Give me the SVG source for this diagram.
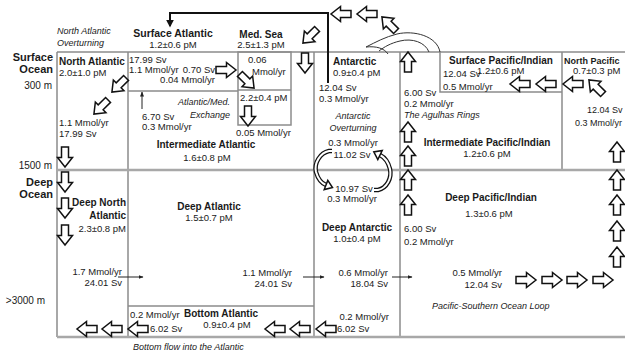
<svg xmlns="http://www.w3.org/2000/svg" xmlns:xlink="http://www.w3.org/1999/xlink" width="625" height="354" viewBox="0 0 625 354">
<style>
text{font-family:"Liberation Sans",Arial,sans-serif;fill:#1a1a1a;font-size:9.5px}
.b{font-weight:bold;font-size:10px}
.ax{font-weight:bold;font-size:11px}
.i{font-style:italic;font-size:9px}
.e{text-anchor:end}
.m{text-anchor:middle}
.bx{stroke:#8c8c8c;stroke-width:1.5;fill:none}
.lv{stroke:#a8a8a8;stroke-width:2.5;fill:none}
.ba{fill:#fff;stroke:#111;stroke-width:1.5;stroke-linejoin:miter}
.thin{stroke:#222;stroke-width:1;fill:none;marker-end:url(#mh)}
.ck{fill:none;stroke:#111;stroke-width:4.5}
.cw{fill:none;stroke:#fff;stroke-width:2}
.ag{fill:none;stroke:#333;stroke-width:1}
</style>
<defs>
<path id="ar" d="M-10,-3.5 H0.5 V-7.5 L10,0 L0.5,7.5 V3.5 H-10 Z"/>
<marker id="mh" viewBox="0 0 10 10" refX="9" refY="5" markerWidth="5" markerHeight="5" orient="auto"><path d="M0,1 L10,5 L0,9 Z" fill="#222"/></marker>
<marker id="mk" viewBox="0 0 10 10" refX="8" refY="5" markerWidth="4" markerHeight="4" orient="auto"><path d="M0,0 L10,5 L0,10 Z" fill="#111"/></marker>
</defs>
<rect width="625" height="354" fill="#fff"/>

<g id="frame">
<path class="bx" d="M57,52 H625 M57,52 V337 M128,52 V337 M128,91 H238 M314,52 V337 M400,52 V337 M440,52 V92 H562 M562,52 V170 M128,306 H314"/>
<rect class="bx" x="238" y="52" width="53" height="73"/>
<path class="bx" d="M238,90 H291"/>
<path class="lv" d="M57,170 H625 M57,337 H625"/>
</g>

<g id="axis-labels">
<text class="ax e" x="53" y="61">Surface</text>
<text class="ax e" x="53" y="73">Ocean</text>
<text class="e" x="52" y="89" style="font-size:10px">300 m</text>
<text class="e" x="52" y="169" style="font-size:10px">1500 m</text>
<text class="ax e" x="53" y="186">Deep</text>
<text class="ax e" x="53" y="198">Ocean</text>
<text class="e" x="45" y="304" style="font-size:10px">&gt;3000 m</text>
</g>

<g id="north-atlantic-overturning">
<text class="i" x="57" y="34">North Atlantic</text>
<text class="i" x="57" y="46">Overturning</text>
</g>

<g id="north-atlantic">
<text class="b" x="59" y="65">North Atlantic</text>
<text x="59" y="76">2.0±1.0 pM</text>
</g>

<g id="surface-atlantic">
<text class="b m" x="173" y="37" style="font-size:10.5px">Surface Atlantic</text>
<text class="m" x="173" y="48">1.2±0.6 pM</text>
</g>

<g id="med-sea">
<text class="b m" x="261" y="38">Med. Sea</text>
<text class="m" x="261" y="48">2.5±1.3 pM</text>
<text x="240" y="101">2.2±0.4 pM</text>
</g>

<g id="antarctic">
<text class="b" x="333" y="65">Antarctic</text>
<text x="333" y="76">0.9±0.4 pM</text>
</g>

<g id="surface-pacific-indian">
<text class="b" x="449" y="64">Surface Pacific/Indian</text>
<text x="477" y="74">1.2±0.6 pM</text>
</g>

<g id="north-pacific">
<text class="b" x="564" y="64" style="font-size:9px">North Pacific</text>
<text x="573" y="74">0.7±0.3 pM</text>
</g>

<g id="intermediate-atlantic">
<text class="b m" x="206" y="148">Intermediate Atlantic</text>
<text class="m" x="207" y="161">1.6±0.8 pM</text>
</g>

<g id="atlantic-med-exchange">
<text class="i e" x="230" y="105">Atlantic/Med.</text>
<text class="i e" x="230" y="118">Exchange</text>
</g>

<g id="antarctic-overturning">
<text class="i m" x="353" y="119">Antarctic</text>
<text class="i m" x="353" y="131">Overturning</text>
</g>

<g id="intermediate-pacific-indian">
<text class="b m" x="487" y="146">Intermediate Pacific/Indian</text>
<text class="m" x="487" y="157">1.2±0.6 pM</text>
</g>

<g id="deep-north-atlantic">
<text class="b e" x="126" y="206">Deep North</text>
<text class="b e" x="126" y="219">Atlantic</text>
<text class="e" x="126" y="232">2.3±0.8 pM</text>
</g>

<g id="deep-atlantic">
<text class="b m" x="209" y="210">Deep Atlantic</text>
<text class="m" x="209" y="221">1.5±0.7 pM</text>
</g>

<g id="deep-antarctic">
<text class="b m" x="357" y="231">Deep Antarctic</text>
<text class="m" x="357" y="242">1.0±0.4 pM</text>
</g>

<g id="deep-pacific-indian">
<text class="b m" x="491" y="201">Deep Pacific/Indian</text>
<text class="m" x="489" y="217">1.3±0.6 pM</text>
</g>

<g id="bottom-atlantic">
<text class="b m" x="221" y="317">Bottom Atlantic</text>
<text class="m" x="227" y="328">0.9±0.4 pM</text>
</g>

<g id="connectors">
<path d="M328,83 V13 H170 V26" fill="none" stroke="#111" stroke-width="2" marker-end="url(#mk)"/>

<use xlink:href="#ar" class="ba" transform="translate(341,14) rotate(180)"/>
<use xlink:href="#ar" class="ba" transform="translate(367,14) rotate(180)"/>
<use xlink:href="#ar" class="ba" transform="translate(389,24) rotate(225)"/>

<path class="ag" d="M440,52 C437,36 414,30 397,34 C385,37 376,42 366,47 C376,46 384,48 388,54"/>
<path class="ag" d="M429,52 C425,42 412,38 400,41 C391,43 384,47 379,51"/>

<use xlink:href="#ar" class="ba" transform="translate(119,85) rotate(135)"/>
<use xlink:href="#ar" class="ba" transform="translate(101,107) rotate(135)"/>

<use xlink:href="#ar" class="ba" transform="translate(226,70)"/>
<use xlink:href="#ar" class="ba" transform="translate(247,81) rotate(45)"/>
<use xlink:href="#ar" class="ba" transform="translate(248,116) rotate(90)"/>
<use xlink:href="#ar" class="ba" transform="translate(305,63) rotate(90)"/>
<use xlink:href="#ar" class="ba" transform="translate(310,36) rotate(135)"/>

<use xlink:href="#ar" class="ba" transform="translate(65,157) rotate(90)"/>
<use xlink:href="#ar" class="ba" transform="translate(65,182) rotate(90)"/>
<use xlink:href="#ar" class="ba" transform="translate(65,208) rotate(90)"/>
<use xlink:href="#ar" class="ba" transform="translate(65,235) rotate(90)"/>

<use xlink:href="#ar" class="ba" transform="translate(87,329) rotate(180)"/>
<use xlink:href="#ar" class="ba" transform="translate(112,329) rotate(180)"/>
<use xlink:href="#ar" class="ba" transform="translate(138,329) rotate(180)"/>
<use xlink:href="#ar" class="ba" transform="translate(275,329) rotate(180)"/>
<use xlink:href="#ar" class="ba" transform="translate(300,329) rotate(180)"/>
<use xlink:href="#ar" class="ba" transform="translate(326,329) rotate(180)"/>

<use xlink:href="#ar" class="ba" transform="translate(520,84) rotate(180)"/>
<use xlink:href="#ar" class="ba" transform="translate(546,84) rotate(180)"/>
<use xlink:href="#ar" class="ba" transform="translate(573,84) rotate(180)"/>
<use xlink:href="#ar" class="ba" transform="translate(596,87) rotate(225)"/>

<use xlink:href="#ar" class="ba" transform="translate(408,62) rotate(270)"/>
<use xlink:href="#ar" class="ba" transform="translate(408,132) rotate(270)"/>
<use xlink:href="#ar" class="ba" transform="translate(408,156) rotate(270)"/>
<use xlink:href="#ar" class="ba" transform="translate(408,180) rotate(270)"/>
<use xlink:href="#ar" class="ba" transform="translate(408,205) rotate(270)"/>

<use xlink:href="#ar" class="ba" transform="translate(617,152) rotate(270)"/>
<use xlink:href="#ar" class="ba" transform="translate(617,180) rotate(270)"/>
<use xlink:href="#ar" class="ba" transform="translate(617,205) rotate(270)"/>
<use xlink:href="#ar" class="ba" transform="translate(617,231) rotate(270)"/>
<use xlink:href="#ar" class="ba" transform="translate(617,257) rotate(270)"/>

<use xlink:href="#ar" class="ba" transform="translate(526,280)"/>
<use xlink:href="#ar" class="ba" transform="translate(552,280)"/>
<use xlink:href="#ar" class="ba" transform="translate(577,280)"/>
<use xlink:href="#ar" class="ba" transform="translate(603,280)"/>

<path class="thin" d="M142,109 V92"/>
<path class="thin" d="M118,277 H143"/>
<path class="thin" d="M303,277 H324"/>
<path class="thin" d="M392,277 H412"/>

<path class="ck" d="M332,151 H329 C320,153 314,163 316,172 C318,179 321,183 326,185"/>
<path class="cw" d="M332,151 H329 C320,153 314,163 316,172 C318,179 321,183 326,185"/>
<polygon class="ba" points="327.8,180.4 332.5,187.6 324.2,189.6"/>
<path class="ck" d="M374,190 H378 C387,188 392,178 390,169 C388,161 384,157 380,155"/>
<path class="cw" d="M374,190 H378 C387,188 392,178 390,169 C388,161 384,157 380,155"/>
<polygon class="ba" points="382.2,150.5 373.8,151.9 377.8,159.5"/>
</g>

<g id="flux-labels">
<text x="129" y="63">17.99 Sv</text>
<text x="129" y="73">1.1 Mmol/yr</text>
<text class="e" x="215" y="73">0.70 Sv</text>
<text class="e" x="215" y="83">0.04 Mmol/yr</text>
<text x="248" y="63">0.06</text>
<text x="252" y="75">Mmol/yr</text>
<text x="236" y="136">0.05 Mmol/yr</text>
<text x="142" y="120">6.70 Sv</text>
<text x="142" y="130">0.3 Mmol/yr</text>
<text x="59" y="126">1.1 Mmol/yr</text>
<text x="59" y="137">17.99 Sv</text>
<text x="319" y="91">12.04 Sv</text>
<text x="319" y="102">0.3 Mmol/yr</text>
<text x="404" y="96">6.00 Sv</text>
<text x="404" y="107">0.2 Mmol/yr</text>
<text class="i" x="404" y="118">The Agulhas Rings</text>
<text x="443" y="77">12.04 Sv</text>
<text x="443" y="90">0.5 Mmol/yr</text>
<text x="587" y="113" style="font-size:9px">12.04 Sv</text>
<text x="575" y="126" style="font-size:9px">0.3 Mmol/yr</text>
<text class="m" x="353" y="146">0.3 Mmol/yr</text>
<text class="m" x="352" y="158">11.02 Sv</text>
<text class="m" x="354" y="192">10.97 Sv</text>
<text class="m" x="352" y="202">0.3 Mmol/yr</text>
<text x="404" y="232">6.00 Sv</text>
<text x="404" y="245">0.2 Mmol/yr</text>
<text class="e" x="122" y="275">1.7 Mmol/yr</text>
<text class="e" x="122" y="286">24.01 Sv</text>
<text class="e" x="292" y="276">1.1 Mmol/yr</text>
<text class="e" x="292" y="287">24.01 Sv</text>
<text class="e" x="388" y="276">0.6 Mmol/yr</text>
<text class="e" x="388" y="287">18.04 Sv</text>
<text class="e" x="502" y="276">0.5 Mmol/yr</text>
<text class="e" x="502" y="288">12.04 Sv</text>
<text class="i" x="432" y="309">Pacific-Southern Ocean Loop</text>
<text x="130" y="318">0.2 Mmol/yr</text>
<text x="150" y="332">6.02 Sv</text>
<text class="e" x="389" y="320">0.2 Mmol/yr</text>
<text x="337" y="332">6.02 Sv</text>
<text class="i" x="133" y="350">Bottom flow into the Atlantic</text>
</g>
</svg>
